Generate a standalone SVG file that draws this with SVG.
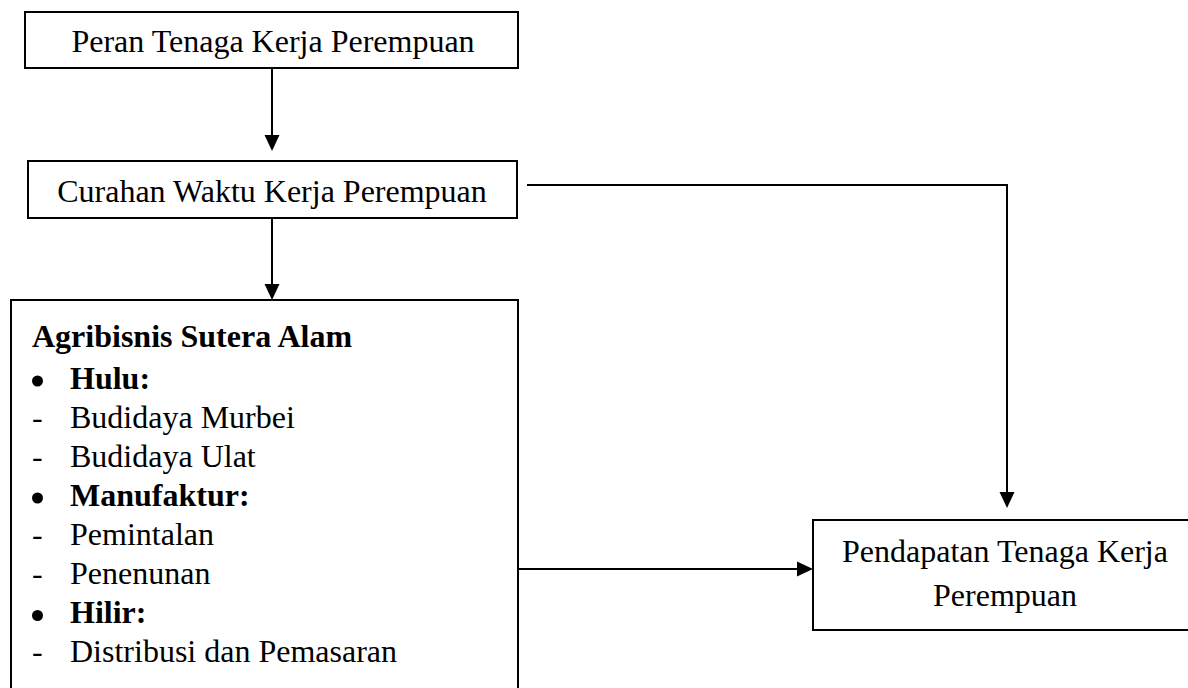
<svg xmlns="http://www.w3.org/2000/svg" width="1188" height="688" viewBox="0 0 1188 688">
  <style>
    .box { fill: #ffffff; stroke: #000000; stroke-width: 2; }
    .conn { fill: none; stroke: #000000; stroke-width: 2; }
    .t { font-family: "Liberation Serif", "Times New Roman", serif; font-size: 32px; fill: #000000; }
    .b { font-weight: bold; }
    .c { text-anchor: middle; }
    .dot { fill: #000000; }
  </style>
  <defs>
    <marker id="arrow" markerUnits="userSpaceOnUse" markerWidth="16" markerHeight="16" viewBox="0 0 16 16" refX="12" refY="8" orient="auto">
      <path d="M0,0.5 L16,8 L0,15.5 Z" fill="#000000"/>
    </marker>
  </defs>
  <rect width="1188" height="688" fill="#ffffff"/>

  <g id="connectors">
    <path class="conn" d="M272,68 L272,147" marker-end="url(#arrow)"/>
    <path class="conn" d="M272,218 L272,296" marker-end="url(#arrow)"/>
    <path class="conn" d="M527,185 L1007,185 L1007,504" marker-end="url(#arrow)"/>
    <path class="conn" d="M518,569 L809,569" marker-end="url(#arrow)"/>
  </g>

  <g id="node-peran">
    <rect class="box" x="25" y="12" width="493" height="56"/>
    <text class="t c" x="273" y="52">Peran Tenaga Kerja Perempuan</text>
  </g>

  <g id="node-curahan">
    <rect class="box" x="28" y="161" width="489" height="57"/>
    <text class="t c" x="272" y="202">Curahan Waktu Kerja Perempuan</text>
  </g>

  <g id="node-agribisnis">
    <rect class="box" x="11" y="300" width="507" height="400"/>
    <text class="t b" x="32" y="347">Agribisnis Sutera Alam</text>
    <circle class="dot" cx="37.5" cy="381" r="5.5"/>
    <text class="t b" x="70" y="388.5">Hulu:</text>
    <text class="t" x="32" y="427.5">-</text>
    <text class="t" x="70" y="427.5">Budidaya Murbei</text>
    <text class="t" x="32" y="466.5">-</text>
    <text class="t" x="70" y="466.5">Budidaya Ulat</text>
    <circle class="dot" cx="37.5" cy="498" r="5.5"/>
    <text class="t b" x="70" y="505.5">Manufaktur:</text>
    <text class="t" x="32" y="544.5">-</text>
    <text class="t" x="70" y="544.5">Pemintalan</text>
    <text class="t" x="32" y="584">-</text>
    <text class="t" x="70" y="584">Penenunan</text>
    <circle class="dot" cx="37.5" cy="615.5" r="5.5"/>
    <text class="t b" x="70" y="623">Hilir:</text>
    <text class="t" x="32" y="662">-</text>
    <text class="t" x="70" y="662">Distribusi dan Pemasaran</text>
  </g>

  <g id="node-pendapatan">
    <rect class="box" x="813" y="520" width="390" height="110"/>
    <text class="t c" x="1005" y="562">Pendapatan Tenaga Kerja</text>
    <text class="t c" x="1005" y="606">Perempuan</text>
  </g>
</svg>
